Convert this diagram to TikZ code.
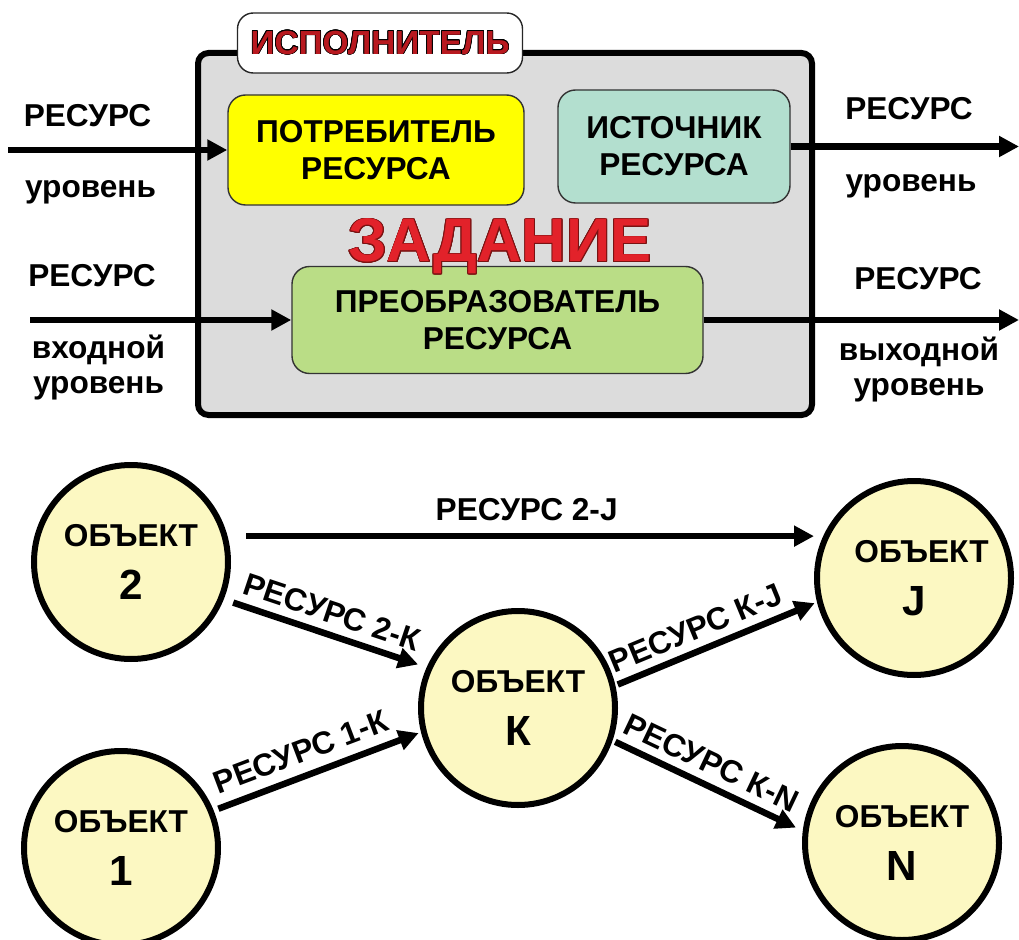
\documentclass[tikz,border=0pt]{standalone}
\usepackage{fontspec}
\setmainfont{Liberation Sans}
\usepackage[copies]{contour}
\usepackage{tikz}
\usetikzlibrary{arrows.meta, positioning, calc}

\definecolor{taskgray}{HTML}{DCDCDC}
\definecolor{consyellow}{HTML}{FFFF00}
\definecolor{srcmint}{HTML}{B3DFCF}
\definecolor{convgreen}{HTML}{BADD86}
\definecolor{objyellow}{HTML}{FCF8C2}
\definecolor{execred}{HTML}{B8191F}
\definecolor{taskred}{HTML}{E2222A}
\definecolor{edgered}{HTML}{7A1212}

\begin{document}
\begin{tikzpicture}[
        panel/.style={rectangle, draw=black, line width=0.12cm, fill=taskgray, rounded corners=6pt, minimum width=12.28cm, minimum height=7.24cm},
        tab/.style={rectangle, draw=black!85, line width=0.8pt, fill=white, rounded corners=9pt, minimum width=5.7cm, minimum height=1.2cm, font=\fontsize{19}{22}\selectfont\bfseries},
        block/.style={rectangle, draw=black!80, line width=0.8pt, rounded corners=10pt, align=center, font=\fontsize{18}{21}\selectfont\bfseries},
        obj/.style={circle, draw=black, line width=0.12cm, fill=objyellow, minimum size=3.88cm, inner sep=0pt, align=center, font=\fontsize{18}{21}\selectfont\bfseries},
        lbl/.style={font=\fontsize{18}{19.5}\selectfont\bfseries, align=center, inner sep=0pt},
        flow/.style={line width=0.13cm, -{Triangle[length=0.4cm, width=0.4cm]}}
    ]
        \useasboundingbox (0,0) rectangle (20.38,-18.8);

        % Executor block
        \node[panel] (task) at (10.1,-4.68) {};
        \node[tab] (exec) at (7.6,-0.86) {\color{execred}\contourlength{0.4pt}\contour{black}{ИСПОЛНИТЕЛЬ}};

        \node[block, fill=consyellow, minimum width=5.92cm, minimum height=2.2cm] (cons) at (7.52,-3.0) {ПОТРЕБИТЕЛЬ\\РЕСУРСА};
        \node[block, fill=srcmint, minimum width=4.64cm, minimum height=2.26cm] (src) at (13.48,-2.93) {ИСТОЧНИК\\РЕСУРСА};
        \node[block, fill=convgreen, minimum width=8.22cm, minimum height=2.14cm] (conv) at (9.95,-6.4) {ПРЕОБРАЗОВАТЕЛЬ\\РЕСУРСА};
        \node[anchor=base, inner sep=0pt, font=\fontsize{35}{40}\selectfont\bfseries] (goal) at (10.0,-5.24) {\color{taskred}\contourlength{0.5pt}\contour{edgered}{ЗАДАНИЕ}};

        % Resource flows
        \coordinate (inA) at (0.16,-3.0);
        \coordinate (outA) at (20.38,-2.93);
        \coordinate (inB) at (0.6,-6.4);
        \coordinate (outB) at (20.38,-6.4);

        \draw[flow] (inA) -- (cons.west);
        \draw[flow] (src.east) -- (outA);
        \draw[flow] (inB) -- (conv.west);
        \draw[flow] (conv.east) -- (outB);

        \node[lbl, anchor=base] (inAres) at (1.75,-2.54) {РЕСУРС};
        \node[lbl, anchor=base] (inAlev) at (1.81,-3.96) {уровень};
        \node[lbl, anchor=base] (inBres) at (1.84,-5.74) {РЕСУРС};
        \node[lbl, anchor=base] (inBlev) at (1.97,-7.86) {входной\\уровень};
        \node[lbl, anchor=base] (outAres) at (18.18,-2.4) {РЕСУРС};
        \node[lbl, anchor=base] (outAlev) at (18.22,-3.84) {уровень};
        \node[lbl, anchor=base] (outBres) at (18.36,-5.8) {РЕСУРС};
        \node[lbl, anchor=base] (outBlev) at (18.38,-7.9) {выходной\\уровень};

        % Objects
        \node[obj] (obj2) at (2.62,-11.24) {ОБЪЕКТ\\[0.32cm]{\fontsize{24}{26}\selectfont 2}};
        \node[obj] (obj1) at (2.42,-16.96) {ОБЪЕКТ\\[0.32cm]{\fontsize{24}{26}\selectfont 1}};
        \node[obj] (objK) at (10.36,-14.16) {ОБЪЕКТ\\[0.32cm]{\fontsize{24}{26}\selectfont К}};
        \node[obj] (objJ) at (18.28,-11.56) {\hspace*{0.3cm}ОБЪЕКТ\\[0.32cm]{\fontsize{24}{26}\selectfont J}};
        \node[obj] (objN) at (18.04,-16.86) {ОБЪЕКТ\\[0.32cm]{\fontsize{24}{26}\selectfont N}};

        % Connectors
        \draw[flow, shorten <=0.37cm] (obj2.15) -- (obj2.15 -| objJ.west) node[lbl, pos=0.51, above=0.24cm] {РЕСУРС 2-J};
        \draw[flow, shorten <=0.2cm, shorten >=0.18cm] (obj2.338) -- (objK.156) node[lbl, midway, sloped, above=0.16cm] {РЕСУРС 2-К};
        \draw[flow, shorten <=0.1cm, shorten >=0.05cm] (obj1.22) -- (objK.194) node[lbl, pos=0.46, sloped, above=0.2cm] {РЕСУРС 1-К};
        \draw[flow, shorten <=0.05cm, shorten >=0.05cm] (objK.13) -- (objJ.194) node[lbl, pos=0.44, sloped, above=0.16cm] {РЕСУРС К-J};
        \draw[flow, shorten <=0.06cm, shorten >=0.15cm] (objK.341) -- (objN.173) node[lbl, pos=0.47, sloped, above=0.16cm] {РЕСУРС К-N};

    \end{tikzpicture}
\end{document}
